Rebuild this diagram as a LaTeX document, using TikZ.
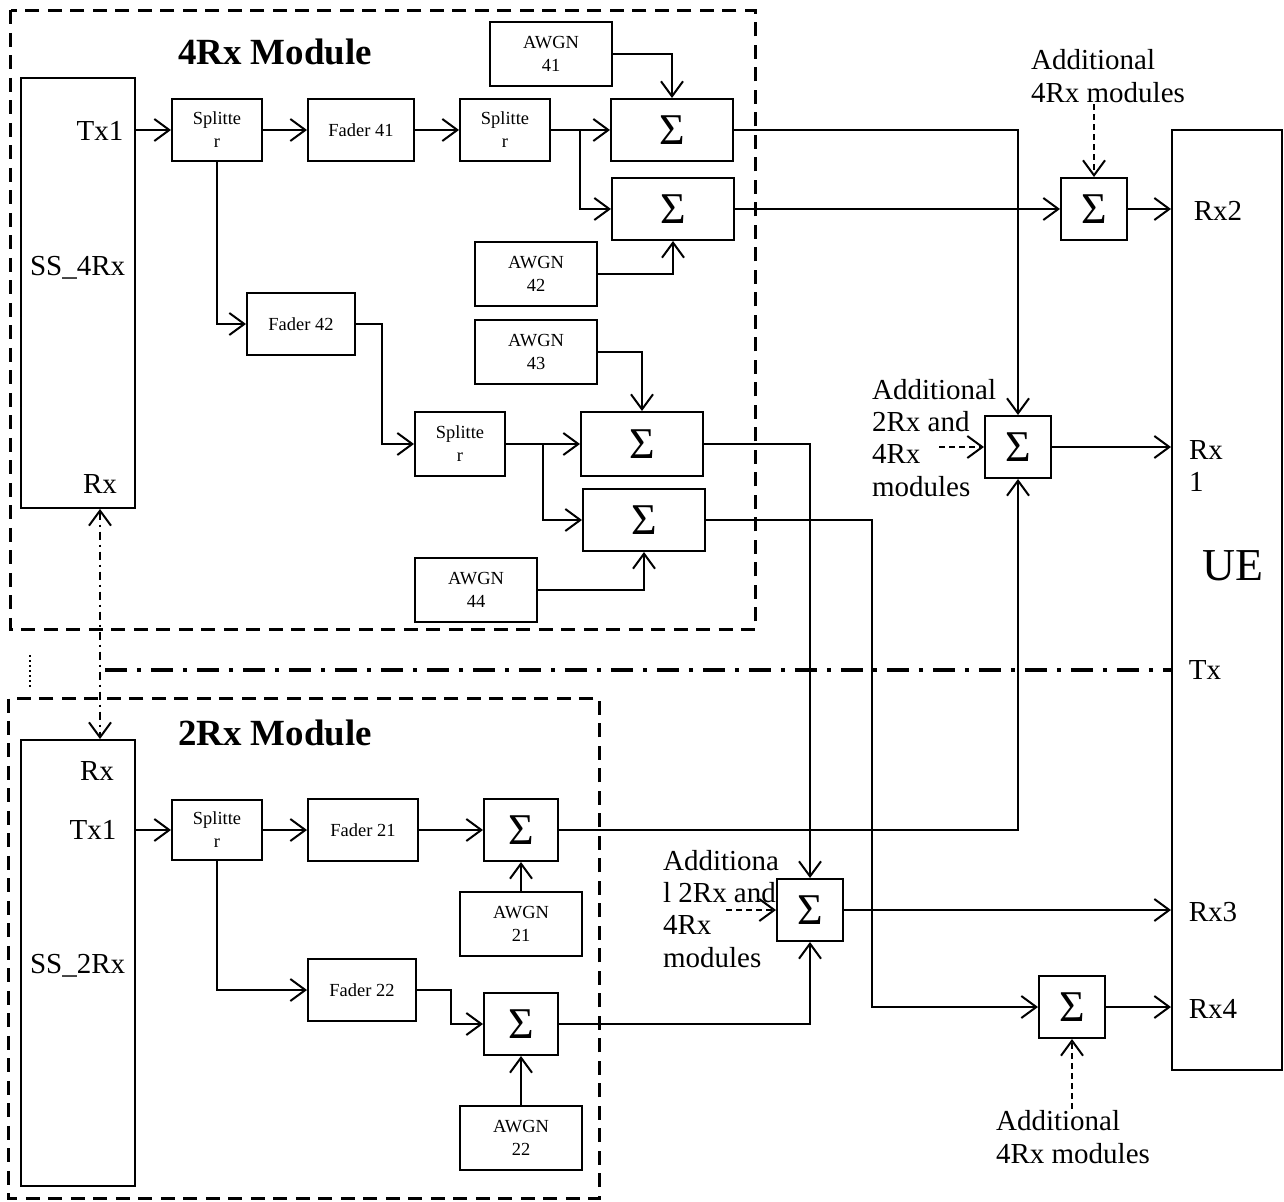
\documentclass[tikz,border=0pt]{standalone}
\usepackage{fontspec}
\setmainfont{Liberation Serif}
\usepackage{tikz}
\usetikzlibrary{arrows.meta,positioning,calc}

\tikzset{
  blk/.style={draw, line width=0.04cm, inner sep=0pt, align=center,
              font=\fontsize{10.5}{13}\selectfont},
  sumbox/.style={draw, line width=0.04cm, inner sep=0pt,
                 font=\fontsize{25}{25}\selectfont},
  big/.style={font=\fontsize{16.5}{18.4}\selectfont, align=left, inner sep=1pt},
  title/.style={font=\fontsize{21}{21}\selectfont\bfseries},
  sig/.style={line width=0.04cm, -{Straight Barb[length=3mm,width=4.4mm]}},
  extra/.style={sig, dash pattern=on 1.2mm off 0.8mm},
  module/.style={line width=0.06cm, dash pattern=on 2.8mm off 1.7mm},
  rxlink/.style={line width=0.04cm, dash pattern=on 1.6mm off 1mm on 0.4mm off 1mm,
                 {Straight Barb[length=3mm,width=4.4mm]}-{Straight Barb[length=3mm,width=4.4mm]}},
  txlink/.style={line width=0.08cm, dash pattern=on 4.4mm off 2mm on 0.8mm off 2mm}
}

\begin{document}
\begin{tikzpicture}[x=0.02cm, y=-0.02cm]
    \useasboundingbox (0,0) rectangle (1284,1202);

    % 4Rx Module
    \draw[module] (10.5,10.5) rectangle (755.5,629.5);
    \node[title] (t4) at (275,52) {4Rx Module};
    \node[draw, line width=0.04cm, minimum width=2.28cm, minimum height=8.6cm] (ss4) at (78,293) {};
    \node[big] (tx4) at (100,131) {Tx1};
    \node[big, anchor=west] (nm4) at (28,268) {SS\_4Rx};
    \node[big] (rx4) at (100,484) {Rx};

    \node[blk, minimum width=1.8cm, minimum height=1.24cm] (spl41) at (217,130) {Splitte\\r};
    \node[blk, minimum width=2.12cm, minimum height=1.24cm] (fad41) at (361,130) {Fader 41};
    \node[blk, minimum width=1.8cm, minimum height=1.24cm] (spl42) at (505,130) {Splitte\\r};
    \node[blk, minimum width=2.44cm, minimum height=1.28cm] (awgn41) at (551,54) {AWGN\\41};
    \node[sumbox, minimum width=2.44cm, minimum height=1.24cm] (sum41) at (672,130) {Σ};
    \node[sumbox, minimum width=2.44cm, minimum height=1.24cm] (sum42) at (673,209) {Σ};
    \node[blk, minimum width=2.44cm, minimum height=1.28cm] (awgn42) at (536,274) {AWGN\\42};
    \node[blk, minimum width=2.16cm, minimum height=1.24cm] (fad42) at (301,324) {Fader 42};
    \node[blk, minimum width=2.44cm, minimum height=1.28cm] (awgn43) at (536,352) {AWGN\\43};
    \node[blk, minimum width=1.8cm, minimum height=1.28cm] (spl43) at (460,444) {Splitte\\r};
    \node[sumbox, minimum width=2.44cm, minimum height=1.28cm] (sum43) at (642,444) {Σ};
    \node[sumbox, minimum width=2.44cm, minimum height=1.24cm] (sum44) at (644,520) {Σ};
    \node[blk, minimum width=2.44cm, minimum height=1.28cm] (awgn44) at (476,590) {AWGN\\44};

    \draw[sig] (ss4.east |- spl41) -- (spl41);
    \draw[sig] (spl41) -- (fad41);
    \draw[sig] (fad41) -- (spl42);
    \draw[sig] (spl42) -- (sum41);
    \coordinate (br42) at (580,130);
    \draw[sig] (br42) |- (sum42.west);
    \draw[sig] (awgn41.east) -| (sum41.north);
    \draw[sig] (awgn42.east) -| (sum42.south);
    \draw[sig] (spl41.south) |- (fad42.west);
    \draw[sig] (fad42.east) -- ++(26,0) |- (spl43.west);
    \draw[sig] (spl43) -- (sum43);
    \coordinate (br43) at (543,444);
    \draw[sig] (br43) |- (sum44.west);
    \draw[sig] (awgn43.east) -| (sum43.north);
    \draw[sig] (awgn44.east) -| (sum44.south);

    % 2Rx Module
    \draw[module] (8.5,698.5) rectangle (599.5,1198.5);
    \node[title] (t2) at (275,733) {2Rx Module};
    \node[draw, line width=0.04cm, minimum width=2.28cm, minimum height=8.92cm] (ss2) at (78,963) {};
    \node[big] (rx2) at (97,771) {Rx};
    \node[big] (tx2) at (93,830) {Tx1};
    \node[big, anchor=west] (nm2) at (28,966) {SS\_2Rx};

    \node[blk, minimum width=1.8cm, minimum height=1.2cm] (spl21) at (217,830) {Splitte\\r};
    \node[blk, minimum width=2.2cm, minimum height=1.24cm] (fad21) at (363,830) {Fader 21};
    \node[sumbox, minimum width=1.48cm, minimum height=1.24cm] (sum21) at (521,830) {Σ};
    \node[blk, minimum width=2.44cm, minimum height=1.28cm] (awgn21) at (521,924) {AWGN\\21};
    \node[blk, minimum width=2.16cm, minimum height=1.24cm] (fad22) at (362,990) {Fader 22};
    \node[sumbox, minimum width=1.48cm, minimum height=1.24cm] (sum22) at (521,1024) {Σ};
    \node[blk, minimum width=2.44cm, minimum height=1.28cm] (awgn22) at (521,1138) {AWGN\\22};

    \draw[sig] (ss2.east |- spl21) -- (spl21);
    \draw[sig] (spl21) -- (fad21);
    \draw[sig] (fad21) -- (sum21);
    \draw[sig] (awgn21) -- (sum21);
    \draw[sig] (spl21.south) |- (fad22.west);
    \draw[sig] (fad22.east) -- ++(34,0) |- (sum22.west);
    \draw[sig] (awgn22) -- (sum22);

    % Links between modules
    \draw[rxlink] (rx4 |- ss4.south) -- (rx4 |- ss2.north);
    \draw[line width=0.03cm, dotted] (30,655) -- (30,688);

    % UE
    \node[draw, line width=0.04cm, minimum width=2.2cm, minimum height=18.8cm] (ue) at (1227,600) {};
    \node[font=\fontsize{26}{26}\selectfont] (uename) at (1233,566) {UE};
    \node[big] (uerx2) at (1218,211) {Rx2};
    \node[big] (uerx1) at (1206,466) {Rx\\1};
    \node[big] (uetx) at (1205,670) {Tx};
    \node[big] (uerx3) at (1213,912) {Rx3};
    \node[big] (uerx4) at (1213,1009) {Rx4};

    \coordinate (txs) at (105,670);
    \draw[txlink] (txs) -- (ue.west |- uetx);

    % Combiners in front of UE
    \node[sumbox, minimum width=1.32cm, minimum height=1.24cm] (sumR2) at (1094,209) {Σ};
    \node[sumbox, minimum width=1.32cm, minimum height=1.24cm] (sumR1) at (1018,447) {Σ};
    \node[sumbox, minimum width=1.32cm, minimum height=1.24cm] (sumR3) at (810,910) {Σ};
    \node[sumbox, minimum width=1.32cm, minimum height=1.24cm] (sumR4) at (1072,1007) {Σ};

    \node[big] (add2) at (1108,76) {Additional\\4Rx modules};
    \node[big, anchor=north west] (add1) at (870,377) {Additional\\2Rx and\\4Rx\\modules};
    \node[big, anchor=north west] (add3) at (661,848) {Additiona\\l 2Rx and\\4Rx\\modules};
    \node[big] (add4) at (1073,1137) {Additional\\4Rx modules};

    \draw[sig] (sum41.east) -| (sumR1.north);
    \draw[sig] (sum42) -- (sumR2);
    \draw[sig] (sumR2) -- (ue.west |- sumR2);
    \draw[sig] (sumR1) -- (ue.west |- sumR1);
    \draw[sig] (sum43.east) -| (sumR3.north);
    \coordinate (k44) at (872,1007);
    \draw[sig] (sum44.east) -| (k44) -- (sumR4.west);
    \draw[sig] (sumR3) -- (ue.west |- sumR3);
    \draw[sig] (sumR4) -- (ue.west |- sumR4);
    \draw[sig] (sum21.east) -| (sumR1.south);
    \draw[sig] (sum22.east) -| (sumR3.south);

    \draw[extra] (add2.south -| sumR2) -- (sumR2.north);
    \draw[extra] ($(sumR1.west)+(-45,0)$) -- (sumR1.west);
    \draw[extra] ($(sumR3.west)+(-50,0)$) -- (sumR3.west);
    \draw[extra] (add4.north -| sumR4) -- (sumR4.south);
\end{tikzpicture}
\end{document}
